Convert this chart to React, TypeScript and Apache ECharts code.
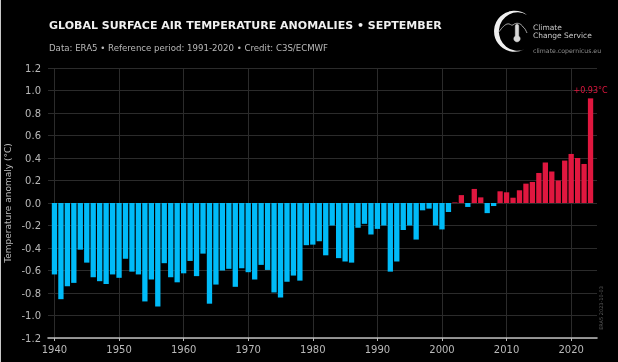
import React, { useEffect, useRef } from "react";
import * as echarts from "echarts";

const FONT = "'DejaVu Sans', sans-serif";
const TITLE = "GLOBAL SURFACE AIR TEMPERATURE ANOMALIES • SEPTEMBER";
const SUBTITLE = "Data: ERA5 • Reference period: 1991-2020 • Credit: C3S/ECMWF";
const Y_NAME = "Temperature anomaly (°C)";
const PEAK_LABEL = "+0.93°C";
const FIRST_YEAR = 1940;
const anomalies = [
  -0.635, -0.855, -0.74, -0.71, -0.415, -0.53, -0.66, -0.695, -0.72, -0.635,
  -0.665, -0.495, -0.61, -0.635, -0.875, -0.68, -0.92, -0.535, -0.66, -0.705,
  -0.625, -0.515, -0.65, -0.45, -0.895, -0.725, -0.6, -0.585, -0.745, -0.58,
  -0.615, -0.68, -0.55, -0.595, -0.795, -0.84, -0.7, -0.645, -0.69, -0.375,
  -0.37, -0.34, -0.465, -0.2, -0.49, -0.52, -0.53, -0.22, -0.185, -0.28,
  -0.23, -0.2, -0.61, -0.52, -0.24, -0.2, -0.325, -0.065, -0.05, -0.2,
  -0.235, -0.08, 0.005, 0.07, -0.035, 0.125, 0.05, -0.09, -0.027, 0.104,
  0.095, 0.047, 0.113, 0.172, 0.187, 0.267, 0.36, 0.28, 0.2, 0.377,
  0.436, 0.4, 0.347, 0.93,
];
const BLUE = "#00bbf8";
const RED = "#e0173f";
const TEXT = "#b9b9b9";
const GRID = "#2b2b2b";

// One empty slot either side of the bars, so the axis runs past them.
const years: string[] = [];
for (let y = FIRST_YEAR - 1; y <= FIRST_YEAR + anomalies.length; y++) years.push(String(y));

const CRESCENT = "M527 15 A20.5 20.5 0 1 0 524 49.5 A18.6 19.2 0 1 1 527 15 Z";
const CLOUD = "M498 33 C501 29 504 25 507 24 C510 23 511 26 513 25 C516 22 521 23 523 27 C525 28 526 31 527 33";
const THERMO = "M515.3 26 A1.7 1.7 0 0 1 518.7 26 L518.7 36 A3.2 3.2 0 1 1 515.3 36 Z";
echarts.graphic.registerShape("c3sCrescent", echarts.graphic.extendPath(CRESCENT, {}));
echarts.graphic.registerShape("c3sCloud", echarts.graphic.extendPath(CLOUD, {}));
echarts.graphic.registerShape("c3sThermo", echarts.graphic.extendPath(THERMO, {}));

const isDecade = (_: number, v: string) => Number(v) % 10 === 0;

export default function App() {
  const ref = useRef<HTMLDivElement>(null);
  useEffect(() => {
    document.body.style.margin = "0";
    document.body.style.background = "#000";
    const chart = echarts.init(ref.current!, undefined, { renderer: "svg" });
    const values: any[] = [null, ...anomalies, null];
    chart.setOption({
      animation: false,
      backgroundColor: "#000",
      textStyle: { fontFamily: FONT },
      grid: { left: 48, top: 68, width: 549, height: 270, containLabel: false, outerBoundsMode: "none" },
      xAxis: {
        type: "category",
        data: years,
        boundaryGap: false,
        axisLine: { onZero: false, lineStyle: { color: "#bdbdbd", width: 1.6 } },
        axisTick: { show: true, interval: isDecade, length: 3, lineStyle: { color: "#bdbdbd", width: 1 } },
        axisLabel: { interval: isDecade, color: TEXT, fontSize: 10, margin: 6, fontFamily: FONT },
        splitLine: { show: true, interval: isDecade, lineStyle: { color: GRID, width: 1 } },
      },
      yAxis: {
        type: "value",
        min: -1.2,
        max: 1.2,
        interval: 0.2,
        name: Y_NAME,
        nameLocation: "middle",
        nameGap: 36,
        nameRotate: 90,
        nameMoveOverlap: false,
        nameTextStyle: { color: TEXT, fontSize: 9, fontFamily: FONT },
        axisLine: { show: false },
        axisTick: { show: false },
        axisLabel: {
          color: TEXT,
          fontSize: 10,
          margin: 7,
          fontFamily: FONT,
          formatter: (v: number) => v.toFixed(1),
        },
        splitLine: { show: true, lineStyle: { color: GRID, width: 1 } },
      },
      series: [
        {
          type: "bar",
          barWidth: 5.3,
          data: values.map((v, i) =>
            i === values.length - 2
              ? {
                  value: v,
                  label: {
                    show: true,
                    position: "top",
                    distance: 4,
                    formatter: PEAK_LABEL,
                    color: RED,
                    fontSize: 8,
                    fontFamily: FONT,
                  },
                }
              : v
          ),
          itemStyle: { color: (p: any) => (p.value < 0 ? BLUE : RED) },
        },
      ],
      graphic: [
        { type: "rect", shape: { x: 0, y: 0, width: 1, height: 362 }, style: { fill: "#c8c8c8" }, silent: true },
        {
          type: "text",
          x: 49,
          y: 25.5,
          style: { text: TITLE, fill: "#f0f0f0", font: `bold 11px ${FONT}`, textVerticalAlign: "middle" },
        },
        {
          type: "text",
          x: 49,
          y: 48,
          style: { text: SUBTITLE, fill: TEXT, font: `8.6px ${FONT}`, textVerticalAlign: "middle" },
        },
        { type: "c3sCrescent", style: { fill: "#f0f0f0" } },
        { type: "c3sCloud", style: { fill: "none", stroke: "#c8c8c8", lineWidth: 0.8 } },
        { type: "c3sThermo", style: { fill: "#d8d8d8", stroke: "#d8d8d8", lineWidth: 0.5 } },
        {
          type: "text",
          x: 533,
          y: 27,
          style: { text: "Climate", fill: "#c8c8c8", font: `7.5px ${FONT}`, textVerticalAlign: "middle" },
        },
        {
          type: "text",
          x: 533,
          y: 35.5,
          style: { text: "Change Service", fill: "#c8c8c8", font: `7.5px ${FONT}`, textVerticalAlign: "middle" },
        },
        {
          type: "text",
          x: 533,
          y: 50,
          style: { text: "climate.copernicus.eu", fill: "#8c8c8c", font: `6.2px ${FONT}`, textVerticalAlign: "middle" },
        },
        {
          type: "text",
          x: 601,
          y: 308,
          rotation: Math.PI / 2,
          style: {
            text: "ERA5 2023-10-03",
            fill: "#5e5e5e",
            font: `5px ${FONT}`,
            textAlign: "center",
            textVerticalAlign: "middle",
          },
        },
      ],
    });
    return () => chart.dispose();
  }, []);
  return <div ref={ref} style={{ width: 618, height: 362, filter: "blur(0.35px)" }} />;
}
